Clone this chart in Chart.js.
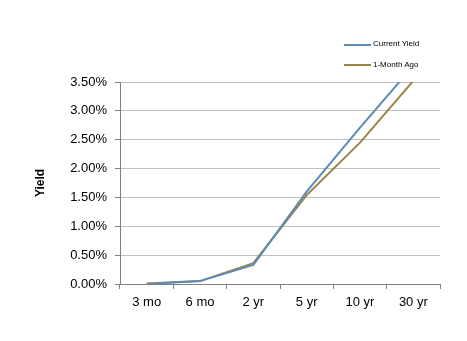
<!DOCTYPE html>
<html>
<head>
<meta charset="utf-8">
<script src="https://cdn.jsdelivr.net/npm/chart.js@4/dist/chart.umd.min.js"></script>
<style>
    html, body { margin: 0; padding: 0; background: #fff; }
    #wrap { position: relative; width: 467px; height: 341px; }
    #legend { position: absolute; left: 344px; top: 38px; font: 8px "Liberation Sans", Arial, sans-serif; color: #000; }
    .item { position: relative; height: 20.5px; }
    .swatch { position: absolute; left: 0; top: 5.5px; width: 27px; height: 2px; }
    .label { position: absolute; left: 29px; top: 1px; white-space: nowrap; }
</style>
</head>
<body>
<div id="wrap">
    <canvas id="yieldChart" width="467" height="341"></canvas>
    <div id="legend"></div>
</div>
<script>
// Treasury yield curve: current vs one month ago (percent)
const maturities = ['3 mo', '6 mo', '2 yr', '5 yr', '10 yr', '30 yr'];
const currentYield = [0.00, 0.05, 0.33, 1.60, 2.71, 3.78];
const monthAgoYield = [0.01, 0.05, 0.36, 1.54, 2.45, 3.52];
const yTicks = [0, 0.5, 1, 1.5, 2, 2.5, 3, 3.5];

const seriesNames = ['Current Yield', '1-Month Ago'];
const seriesColors = ['#5b8bb8', '#9b8447'];
const font = '"Liberation Sans", Arial, sans-serif';

new Chart(document.getElementById('yieldChart'), {
    type: 'line',
    data: {
        labels: maturities,
        datasets: [
            {
                label: seriesNames[0],
                data: currentYield,
                borderColor: seriesColors[0],
                borderWidth: 2,
                pointRadius: 0,
                tension: 0
            },
            {
                label: seriesNames[1],
                data: monthAgoYield,
                borderColor: seriesColors[1],
                borderWidth: 2,
                pointRadius: 0,
                tension: 0
            }
        ]
    },
    options: {
        responsive: false,
        animation: false,
        layout: { padding: { left: 0, right: 27, top: 82, bottom: 0 } },
        plugins: {
            legend: { display: false },
            tooltip: { enabled: false }
        },
        scales: {
            x: {
                offset: true,
                grid: {
                    offset: true,
                    drawOnChartArea: false,
                    tickLength: 5,
                    tickColor: '#808080'
                },
                border: { color: '#808080', width: 1 },
                ticks: {
                    color: '#000',
                    padding: 6,
                    font: { family: font, size: 13 },
                    maxRotation: 0
                },
                afterFit: scale => { scale.height = 57; }
            },
            y: {
                min: 0,
                max: 3.5,
                afterBuildTicks: scale => {
                    scale.ticks = yTicks.map(v => ({ value: v }));
                },
                grid: {
                    color: '#c0c0c0',
                    tickLength: 5,
                    tickColor: '#808080'
                },
                border: { color: '#808080', width: 1 },
                ticks: {
                    color: '#000',
                    padding: 8,
                    font: { family: font, size: 13 },
                    callback: v => v.toFixed(2) + '%'
                },
                title: {
                    display: true,
                    text: 'Yield',
                    color: '#000',
                    font: { family: font, size: 12, weight: 'bold' },
                    padding: { top: 33, bottom: 0 }
                },
                afterFit: scale => { scale.width = 120; }
            }
        }
    }
});

// Legend stacked in the top right corner, as in the original
const legend = document.getElementById('legend');
seriesNames.forEach((name, i) => {
    const item = document.createElement('div');
    item.className = 'item';
    item.innerHTML = `<span class="swatch" style="background:${seriesColors[i]}"></span><span class="label">${name}</span>`;
    legend.appendChild(item);
});
</script>
</body>
</html>
